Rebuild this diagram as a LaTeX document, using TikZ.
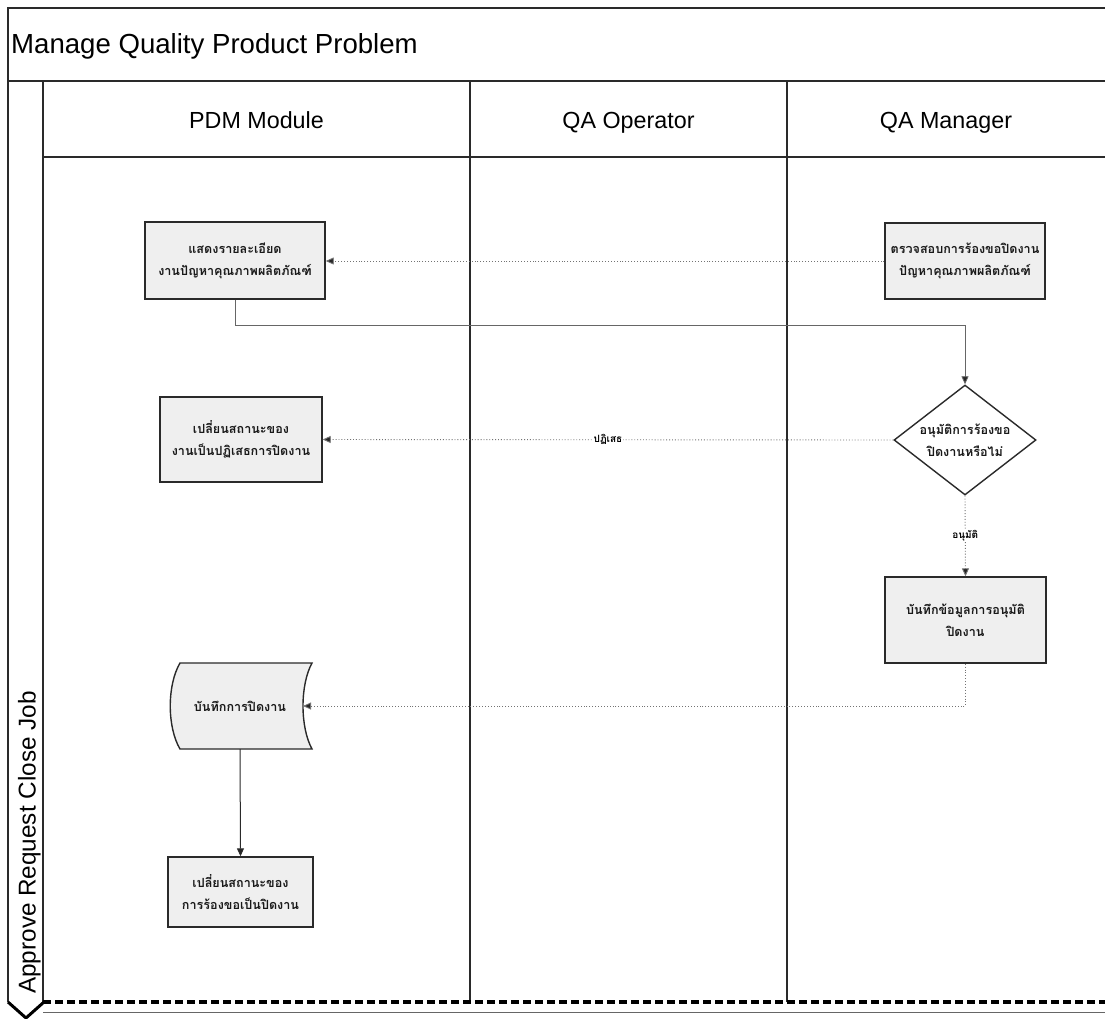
\documentclass[tikz,border=0pt]{standalone}
\usepackage{fontspec}
\setmainfont{Liberation Sans}
\newfontfamily\thai[Script=Thai]{Loma}
\usetikzlibrary{arrows.meta,shapes.geometric}
\definecolor{frame}{HTML}{2A2A2A}
\definecolor{boxfill}{HTML}{EFEFEF}
\begin{document}
\begin{tikzpicture}[x=1pt,y=-1pt,
  frameline/.style={draw=frame,line width=1.3pt},
  proc/.style={draw=frame,line width=1.4pt,fill=boxfill,align=center,inner sep=0pt,
    font=\thai\bfseries\fontsize{12.6}{22}\selectfont,text=black!90},
  msg/.style={draw=black!55,dotted,line width=0.9pt,-{Triangle[length=8pt,width=7pt,fill=black!85]}},
  flowline/.style={draw=black!60,line width=0.8pt,-{Triangle[length=8pt,width=7pt,fill=black!85]}},
  solidflow/.style={draw=frame,line width=1pt,-{Triangle[length=8pt,width=7pt,fill=black!85]}},
  lbl/.style={fill=white,inner sep=1pt,font=\thai\bfseries\fontsize{10}{11}\selectfont},
  lanehead/.style={font=\fontsize{23.3}{23.3}\selectfont,anchor=base}]
\useasboundingbox (0,0) rectangle (1105,1018);
\fill[white] (0,0) rectangle (1105,1018);
% frame
\draw[frameline] (1105,8) -- (8,8) -- (8,1002);
\draw[frameline] (8,81) -- (1105,81);
\draw[frameline] (43,157) -- (1105,157);
\draw[frameline] (43,81) -- (43,1002);
\draw[frameline] (470,81) -- (470,1002);
\draw[frameline] (787,81) -- (787,1002);
\draw[black,line width=3.2pt,dash pattern=on 8pt off 4pt] (43,1002) -- (1105,1002);
\draw[draw=black!60,line width=1pt] (43,1012) -- (1105,1012);
\draw[black,line width=3pt] (8,1002) -- (26,1018) -- (44,1002);
% titles
\node[anchor=base west,font=\fontsize{27.6}{27.6}\selectfont,inner sep=0] (title) at (11,53) {Manage Quality Product Problem};
\node[lanehead] (h1) at (256.5,128) {PDM Module};
\node[lanehead] (h2) at (628.5,128) {QA Operator};
\node[lanehead] (h3) at (946,128) {QA Manager};
\node[rotate=90,anchor=base west,inner sep=0,font=\fontsize{24.3}{24.3}\selectfont] (pool) at (35.5,994) {Approve Request Close Job};
% nodes
\node[proc,minimum width=180pt,minimum height=77pt] (b1) at (235,260.5) {แสดงรายละเอียด\\งานปัญหาคุณภาพผลิตภัณฑ์};
\node[proc,minimum width=160pt,minimum height=76pt] (b2) at (965,261) {ตรวจสอบการร้องขอปิดงาน\\ปัญหาคุณภาพผลิตภัณฑ์};
\node[proc,shape=diamond,inner sep=-14pt,minimum width=142pt,minimum height=110pt,fill=white] (d) at (965,440) {อนุมัติการร้องขอ\\ปิดงานหรือไม่};
\node[proc,minimum width=162pt,minimum height=85pt] (b3) at (241,439.5) {เปลี่ยนสถานะของ\\งานเป็นปฏิเสธการปิดงาน};
\node[proc,minimum width=161pt,minimum height=86pt] (b4) at (965.5,620) {บันทึกข้อมูลการอนุมัติ\\ปิดงาน};
\draw[frameline,line width=1.4pt,fill=boxfill] (180,663) -- (312,663) .. controls (300,685) and (300,727) .. (312,749)
  -- (180,749) .. controls (167,727) and (167,685) .. (180,663) -- cycle;
\node[proc,draw=none,fill=none] (doc) at (240,706) {บันทึกการปิดงาน};
\coordinate (docE) at (303,706);
\coordinate (docS) at (240,749);
\node[proc,minimum width=145pt,minimum height=70pt] (b5) at (240.5,892) {เปลี่ยนสถานะของ\\การร้องขอเป็นปิดงาน};
% connectors
\draw[msg] (b2.west) -- (b2.west -| b1.east);
\draw[flowline] (b1.south) -- ++(0,26) -| (d.north);
\draw[msg] (d.west) -- node[lbl] (rej) {ปฏิเสธ} (b3.east);
\draw[msg] (d.south) -- node[lbl] (app) {อนุมัติ} (b4.north);
\draw[msg] (b4.south) |- (docE);
\draw[solidflow] (docS) -- (b5.north);
\end{tikzpicture}
\end{document}
